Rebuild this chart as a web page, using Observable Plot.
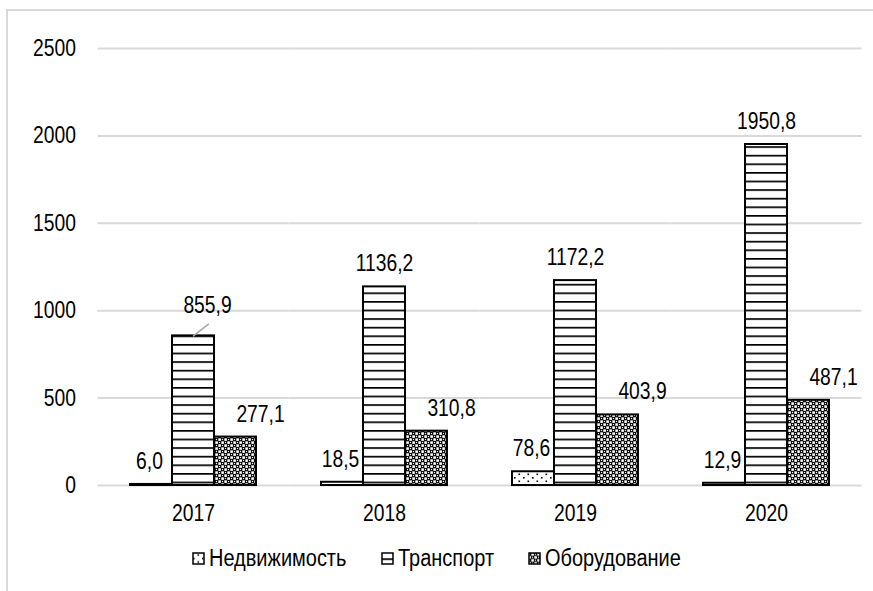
<!DOCTYPE html>
<html><head><meta charset="utf-8">
<script src="https://cdn.jsdelivr.net/npm/d3@7"></script>
<script src="https://cdn.jsdelivr.net/npm/@observablehq/plot@0.6"></script>
<style>
body{margin:0;background:#fff;overflow:hidden;width:873px;height:591px;position:relative;font-family:"Liberation Sans",Arial,sans-serif;color:#000;}
#frame{position:absolute;left:6px;top:9px;width:1000px;height:1000px;border-left:2px solid #d9d9d9;border-top:2px solid #d9d9d9;box-sizing:border-box;}
#chart{position:absolute;left:0;top:0;}
#legend{position:absolute;left:0;top:544px;width:873px;display:flex;justify-content:center;align-items:center;font-size:23.5px;line-height:28px;}
#legend .item{display:flex;align-items:center;margin:0 17px;}
#legend svg{margin-right:4px;flex:none;}
#legend span{display:inline-block;transform:scaleX(0.85);transform-origin:left center;white-space:nowrap;}
</style></head>
<body>
<div id="frame"></div>
<div id="chart"></div>
<div id="legend"></div>
<script>
const years = ["2017", "2018", "2019", "2020"];
const series = ["Недвижимость", "Транспорт", "Оборудование"];
const nedv = [6.0, 18.5, 78.6, 12.9];
const transport = [855.9, 1136.2, 1172.2, 1950.8];
const oborud = [277.1, 310.8, 403.9, 487.1];
const yTicks = [0, 500, 1000, 1500, 2000, 2500];

const values = [nedv, transport, oborud];
const rows = [];
years.forEach((y, j) => series.forEach((s, i) => rows.push({year: y, series: s, value: values[i][j]})));

const W = 873, ML = 97, MR = 12, PAD_IN = 0.33;
const step = (W - ML - MR) / years.length;
const ext = step * PAD_IN / 2;
const NARROW = 0.82, LEG_NARROW = 0.85;

const patIds = ["pat-nedv", "pat-trans", "pat-obor"];
const fmt = v => d3.format(".1f")(v).replace(".", ",");
const isLeader = d => d.year === "2017" && d.series === "Транспорт";
const labelDx = [-2, 0, 25];
const FONT = "23.5px";
const leaderShape = {draw(ctx, l) { ctx.moveTo(0, 0); ctx.lineTo(0, -l); }};

const marks = [
  Plot.ruleY(yTicks, {stroke: "#d9d9d9", strokeWidth: 2, insetLeft: -ext, insetRight: -ext}),
  Plot.axisY(yTicks, {tickSize: 0, tickPadding: 22 + ext, tickFormat: d3.format("d"), fontSize: FONT, label: null}),
  Plot.axisFx({anchor: "bottom", tickSize: 0, tickPadding: 19, fontSize: FONT, label: null}),
  Plot.barY(rows, {fx: "year", x: "series", y: "value", fill: "series", stroke: "#000", strokeWidth: 2}),
  ...series.map((s, i) => Plot.text(rows.filter(d => d.series === s && !isLeader(d)), {
    fx: "year", x: "series", y: "value", text: d => fmt(d.value), dx: labelDx[i], dy: -23,
    lineAnchor: "middle", fontSize: FONT, fill: "#000"
  })),
  Plot.text(rows.filter(isLeader), {fx: "year", x: "series", y: "value", text: d => fmt(d.value), dx: 14, dy: -30.5, lineAnchor: "middle", fontSize: FONT, fill: "#000"}),
  Plot.vector(rows.filter(isLeader), {fx: "year", x: "series", y: "value", length: 19, rotate: 52, anchor: "start", shape: leaderShape, stroke: "#a6a6a6", strokeWidth: 1.5})
];

const chart = Plot.plot({
  width: W,
  height: 530,
  marginLeft: ML,
  marginRight: MR,
  marginTop: 48,
  marginBottom: 45,
  style: {fontFamily: '"Liberation Sans",Arial,sans-serif', fontSize: FONT, background: "transparent", color: "#000", overflow: "visible"},
  fx: {domain: years, paddingInner: PAD_IN, paddingOuter: PAD_IN / 2, label: null},
  x: {domain: series, padding: 0, axis: null},
  y: {domain: [0, 2500], axis: null},
  color: {type: "ordinal", domain: series, range: patIds.map(id => `url(#${id})`)},
  marks
});

const defs = d3.select(chart).insert("defs", ":first-child");
// dotted
const p0 = defs.append("pattern").attr("id", patIds[0]).attr("patternUnits", "userSpaceOnUse").attr("width", 9).attr("height", 7);
p0.append("rect").attr("width", 9).attr("height", 7).attr("fill", "#fff");
p0.append("rect").attr("x", 1).attr("y", 1).attr("width", 1.6).attr("height", 1.6).attr("fill", "#000");
p0.append("rect").attr("x", 5.5).attr("y", 4.5).attr("width", 1.6).attr("height", 1.6).attr("fill", "#000");
// horizontal lines
const p1 = defs.append("pattern").attr("id", patIds[1]).attr("patternUnits", "userSpaceOnUse").attr("width", 8).attr("height", 8.6);
p1.append("rect").attr("width", 8).attr("height", 8.6).attr("fill", "#fff");
p1.append("rect").attr("y", 0).attr("width", 8).attr("height", 1.7).attr("fill", "#000");
// small check
const p2 = defs.append("pattern").attr("id", patIds[2]).attr("patternUnits", "userSpaceOnUse").attr("width", 6).attr("height", 6);
p2.append("rect").attr("width", 6).attr("height", 6).attr("fill", "#000");
p2.append("rect").attr("x", 0.3).attr("y", 0.3).attr("width", 2.6).attr("height", 2.6).attr("fill", "#fff");
p2.append("rect").attr("x", 3.3).attr("y", 3.3).attr("width", 2.6).attr("height", 2.6).attr("fill", "#fff");
p2.append("rect").attr("x", 3.9).attr("y", 0.9).attr("width", 1.2).attr("height", 1.2).attr("fill", "#fff");
p2.append("rect").attr("x", 0.9).attr("y", 3.9).attr("width", 1.2).attr("height", 1.2).attr("fill", "#fff");

document.getElementById("chart").append(chart);

// condense the text horizontally (narrow typeface look)
chart.querySelectorAll("text").forEach(t => {
  const len = t.getComputedTextLength();
  if (len > 0) {
    t.setAttribute("textLength", len * NARROW);
    t.setAttribute("lengthAdjust", "spacingAndGlyphs");
  }
});

const legend = d3.select("#legend");
series.forEach((s, i) => {
  const it = legend.append("div").attr("class", "item");
  const sv = it.append("svg").attr("width", 13).attr("height", 13);
  sv.append("g").attr("transform", "translate(0,-2.3)")
    .append("rect").attr("x", 1).attr("y", 3.3).attr("width", 11).attr("height", 11)
    .attr("fill", `url(#${patIds[i]})`).attr("stroke", "#000").attr("stroke-width", 1.5);
  it.append("span").text(s);
});
legend.selectAll("span").each(function() {
  const w = this.getBoundingClientRect().width / LEG_NARROW;
  this.style.marginRight = `${-(w * (1 - LEG_NARROW))}px`;
});
</script>
</body></html>
